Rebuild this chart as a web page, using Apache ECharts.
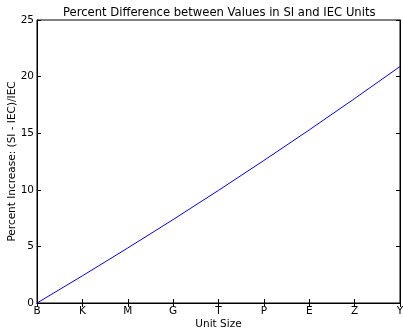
<!DOCTYPE html>
<html>
<head>
<meta charset="utf-8">
<script src="https://cdn.jsdelivr.net/npm/echarts@6/dist/echarts.min.js"></script>
<style>
html,body{margin:0;padding:0;background:#fff;}
#chart{width:403px;height:330px;}
</style>
</head>
<body>
<div id="chart"></div>
<script>
var categories = ['B','K','M','G','T','P','E','Z','Y'];
var percentIncrease = [0, 2.40, 4.86, 7.37, 9.95, 12.59, 15.29, 18.06, 20.89];
var yTicks = [0, 5, 10, 15, 20, 25];

var font = 'DejaVu Sans';
var chart = echarts.init(document.getElementById('chart'), null, {renderer: 'canvas'});
var tickStyle = {show: true, inside: true, length: 4, lineStyle: {color: '#000', width: 1}};
chart.setOption({
  animation: false,
  backgroundColor: '#fff',
  title: {
    text: 'Percent Difference between Values in SI and IEC Units',
    left: 58, top: 2,
    textStyle: {fontFamily: font, fontSize: 11.6, fontWeight: 'normal', color: '#000'}
  },
  grid: {left: 37, right: 3, top: 20, bottom: 27, containLabel: false, outerBoundsMode: 'none',
    show: true, borderColor: '#000', borderWidth: 1, backgroundColor: 'transparent'},
  xAxis: [{
    type: 'category', data: categories, boundaryGap: false, position: 'bottom',
    name: 'Unit Size', nameLocation: 'middle', nameGap: 16, nameMoveOverlap: false,
    nameTextStyle: {fontFamily: font, fontSize: 10.5, color: '#000'},
    axisLine: {show: true, lineStyle: {color: '#000'}},
    axisTick: Object.assign({alignWithLabel: true}, tickStyle),
    axisLabel: {fontFamily: font, fontSize: 10.5, color: '#000', margin: 3, interval: 0},
    splitLine: {show: false}
  }, {
    type: 'category', data: categories, boundaryGap: false, position: 'top',
    axisLine: {show: true, lineStyle: {color: '#000'}},
    axisTick: tickStyle, axisLabel: {show: false}, splitLine: {show: false}
  }],
  yAxis: [{
    type: 'value', min: 0, max: 25, interval: 5, position: 'left',
    name: 'Percent Increase: (SI - IEC)/IEC', nameLocation: 'middle', nameGap: 19, nameMoveOverlap: false,
    nameTextStyle: {fontFamily: font, fontSize: 10.5, color: '#000'},
    axisLine: {show: true, lineStyle: {color: '#000'}},
    axisTick: tickStyle,
    axisLabel: {fontFamily: font, fontSize: 10.5, color: '#000', margin: 3},
    splitLine: {show: false}
  }, {
    type: 'value', min: 0, max: 25, interval: 5, position: 'right',
    axisLine: {show: true, lineStyle: {color: '#000'}},
    axisTick: tickStyle, axisLabel: {show: false}, splitLine: {show: false}
  }],
  series: [{
    type: 'line', data: percentIncrease, showSymbol: false, symbol: 'none',
    lineStyle: {color: '#0000ff', width: 1}, smooth: false
  }]
});
</script>
</body>
</html>
